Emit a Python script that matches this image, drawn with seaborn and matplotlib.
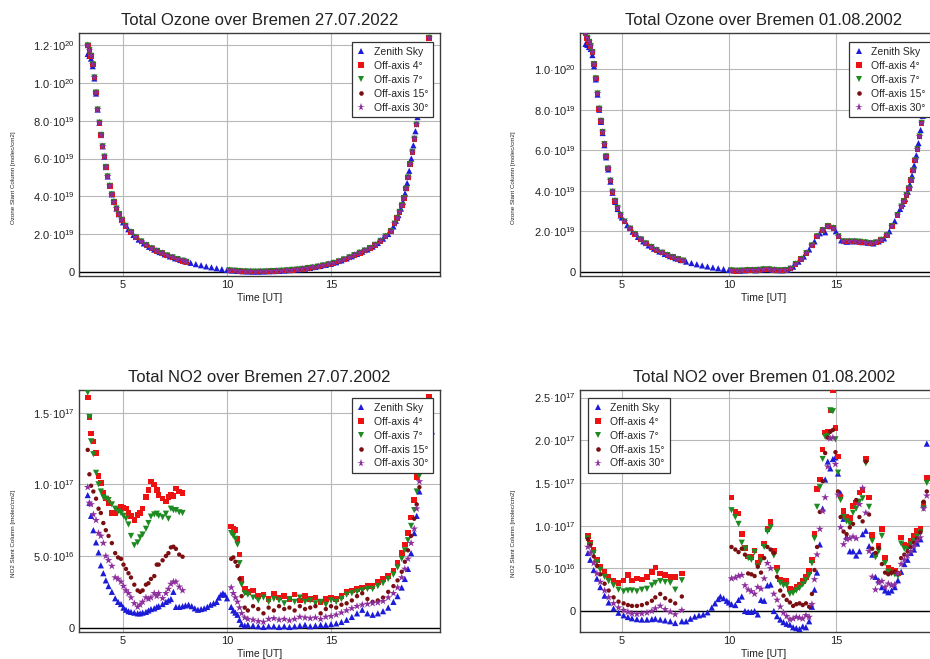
import matplotlib
matplotlib.use("Agg")
import matplotlib.pyplot as plt
from matplotlib.lines import Line2D
import pandas as pd
import seaborn as sns

# ---------------------------------------------------------------- series
SERIES = ["Zenith Sky", "Off-axis 4°", "Off-axis 7°", "Off-axis 15°", "Off-axis 30°"]
COLORS = {"Zenith Sky": "#1c1cd8", "Off-axis 4°": "#ee1111", "Off-axis 7°": "#1e8a22",
          "Off-axis 15°": "#7a0e10", "Off-axis 30°": "#8e2f9e"}
MARKERS = {"Zenith Sky": "^", "Off-axis 4°": "s", "Off-axis 7°": "v",
           "Off-axis 15°": "o", "Off-axis 30°": "*"}
SIZES = {"Zenith Sky": 20, "Off-axis 4°": 16, "Off-axis 7°": 20,
         "Off-axis 15°": 10, "Off-axis 30°": 34}
LEGEND_MS = {"Zenith Sky": 4.6, "Off-axis 4°": 4.4, "Off-axis 7°": 4.6,
             "Off-axis 15°": 3.3, "Off-axis 30°": 5.8}

# ---------------------------------------------------------------- ticks
x_ticks = [5, 10, 15]
x_ticklabels = ["5", "10", "15"]
o3_0727_yticks = [0, 2, 4, 6, 8, 10, 12]
o3_0727_yticklabels = ["0", "2.0·10$^{19}$", "4.0·10$^{19}$", "6.0·10$^{19}$",
                       "8.0·10$^{19}$", "1.0·10$^{20}$", "1.2·10$^{20}$"]
o3_0108_yticks = [0, 2, 4, 6, 8, 10]
o3_0108_yticklabels = ["0", "2.0·10$^{19}$", "4.0·10$^{19}$", "6.0·10$^{19}$",
                       "8.0·10$^{19}$", "1.0·10$^{20}$"]
no2_0727_yticks = [0, 5, 10, 15]
no2_0727_yticklabels = ["0", "5.0·10$^{16}$", "1.0·10$^{17}$", "1.5·10$^{17}$"]
no2_0108_yticks = [0, 5, 10, 15, 20, 25]
no2_0108_yticklabels = ["0", "5.0·10$^{16}$", "1.0·10$^{17}$", "1.5·10$^{17}$",
                        "2.0·10$^{17}$", "2.5·10$^{17}$"]

# ---------------------------------------------------------------- ozone 27.07 (units 1e19 molec/cm2)
o3_0727_am_time = [3.30, 3.38, 3.46, 3.54, 3.62, 3.70, 3.78, 3.86, 3.94, 4.02, 4.10, 4.18, 4.26, 4.36,
                   4.46, 4.56, 4.68, 4.80, 4.94, 5.00, 5.25, 5.50, 5.75, 6.00, 6.25, 6.50, 6.75, 7.00,
                   7.25, 7.50, 7.75, 8.00]
o3_0727_am_zenith = [11.55, 11.45, 11.3, 10.9, 10.25, 9.45, 8.6, 7.9, 7.25, 6.65, 6.1, 5.55, 5.05, 4.55,
                     4.1, 3.7, 3.35, 3.05, 2.75, 2.62, 2.25, 1.95, 1.7, 1.5, 1.32, 1.17, 1.04, 0.92,
                     0.81, 0.71, 0.62, 0.54]
o3_0727_am_off_time = [3.30, 3.38, 3.46, 3.54, 3.62, 3.70, 3.78, 3.86, 3.94, 4.02, 4.10, 4.18, 4.26, 4.36,
                       4.46, 4.56, 4.68, 4.80, 4.94, 5.12, 5.38, 5.62, 5.88, 6.12, 6.38, 6.62, 6.88,
                       7.12, 7.38, 7.62, 7.88, 8.05]
o3_0727_am_offaxis = [12.0, 11.75, 11.45, 11.0, 10.3, 9.5, 8.6, 7.9, 7.25, 6.65, 6.1, 5.55, 5.05, 4.55,
                      4.1, 3.7, 3.35, 3.05, 2.75, 2.43, 2.10, 1.82, 1.60, 1.41, 1.24, 1.10, 0.98,
                      0.86, 0.76, 0.66, 0.58, 0.52]
o3_0727_mid_time = [8.25, 8.50, 8.75, 9.00, 9.25, 9.50, 9.75]
o3_0727_mid_zenith = [0.47, 0.40, 0.34, 0.28, 0.23, 0.18, 0.13]
o3_0727_pm_time = [10.00, 10.25, 10.50, 10.75, 11.00, 11.25, 11.50, 11.75, 12.00, 12.25, 12.50, 12.75,
                   13.00, 13.25, 13.50, 13.75, 14.00, 14.25, 14.50, 14.75, 15.00, 15.25, 15.50, 15.75,
                   16.00, 16.25, 16.50, 16.75, 17.00, 17.25, 17.50, 17.75, 18.00, 18.12, 18.24, 18.36,
                   18.46, 18.56, 18.66, 18.76, 18.86, 18.96, 19.06, 19.16, 19.30, 19.45, 19.60, 19.72]
o3_0727_pm_zenith = [0.09, 0.06, 0.04, 0.02, 0.01, 0.0, 0.0, 0.01, 0.02, 0.03, 0.04, 0.06,
                     0.08, 0.10, 0.13, 0.16, 0.20, 0.25, 0.30, 0.36, 0.42, 0.50, 0.60, 0.70,
                     0.82, 0.94, 1.06, 1.18, 1.33, 1.52, 1.75, 2.0, 2.4, 2.7, 3.0, 3.35,
                     3.7, 4.15, 4.7, 5.35, 6.0, 6.7, 7.45, 8.2, 9.3, 10.5, 11.0, 11.4]
o3_0727_pm_off_time = [10.12, 10.38, 10.62, 10.88, 11.12, 11.38, 11.62, 11.88, 12.12, 12.38, 12.62, 12.88,
                       13.12, 13.38, 13.62, 13.88, 14.12, 14.38, 14.62, 14.88, 15.12, 15.38, 15.62, 15.88,
                       16.12, 16.38, 16.62, 16.88, 17.12, 17.38, 17.62, 17.88, 18.06, 18.18, 18.30, 18.41,
                       18.51, 18.61, 18.71, 18.81, 18.91, 19.01, 19.11, 19.23, 19.38, 19.52, 19.66, 19.72]
o3_0727_pm_offaxis = [0.07, 0.05, 0.03, 0.015, 0.005, 0.0, 0.005, 0.015, 0.025, 0.035, 0.05, 0.07,
                      0.09, 0.115, 0.145, 0.18, 0.22, 0.27, 0.33, 0.39, 0.46, 0.55, 0.65, 0.76,
                      0.88, 1.0, 1.12, 1.25, 1.42, 1.63, 1.87, 2.15, 2.55, 2.85, 3.17, 3.52,
                      3.9, 4.4, 5.0, 5.7, 6.35, 7.05, 7.8, 8.7, 9.9, 11.0, 12.0, 12.4]

# ---------------------------------------------------------------- ozone 01.08 (units 1e19 molec/cm2)
o3_0108_am_time = [3.30, 3.38, 3.46, 3.54, 3.62, 3.70, 3.78, 3.86, 3.94, 4.02, 4.10, 4.18, 4.26, 4.36,
                   4.46, 4.56, 4.68, 4.80, 4.94, 5.00, 5.25, 5.50, 5.75, 6.00, 6.25, 6.50, 6.75, 7.00,
                   7.25, 7.50, 7.75]
o3_0108_am_zenith = [11.25, 11.2, 11.1, 11.0, 10.7, 10.15, 9.5, 8.75, 8.0, 7.4, 6.85, 6.25, 5.65, 5.05,
                     4.45, 3.9, 3.45, 3.1, 2.78, 2.68, 2.3, 1.98, 1.72, 1.5, 1.3, 1.14, 1.0, 0.88,
                     0.77, 0.67, 0.58]
o3_0108_am_off_time = [3.30, 3.38, 3.46, 3.54, 3.62, 3.70, 3.78, 3.86, 3.94, 4.02, 4.10, 4.18, 4.26, 4.36,
                       4.46, 4.56, 4.68, 4.80, 4.94, 5.12, 5.38, 5.62, 5.88, 6.12, 6.38, 6.62, 6.88,
                       7.12, 7.38, 7.62, 7.85]
o3_0108_am_offaxis = [11.8, 11.55, 11.35, 11.15, 10.85, 10.25, 9.55, 8.8, 8.05, 7.45, 6.9, 6.3, 5.7, 5.1,
                      4.5, 3.95, 3.5, 3.15, 2.8, 2.48, 2.13, 1.85, 1.60, 1.40, 1.22, 1.07, 0.94,
                      0.82, 0.72, 0.62, 0.55]
o3_0108_mid_time = [8.00, 8.25, 8.50, 8.75, 9.00, 9.25, 9.50, 9.75]
o3_0108_mid_zenith = [0.50, 0.43, 0.37, 0.31, 0.26, 0.21, 0.17, 0.13]
o3_0108_pm_time = [10.00, 10.25, 10.50, 10.75, 11.00, 11.25, 11.50, 11.75, 12.00, 12.25, 12.50, 12.75,
                   13.00, 13.25, 13.50, 13.75, 14.00, 14.25, 14.50, 14.75, 15.00, 15.25, 15.50, 15.75,
                   16.00, 16.25, 16.50, 16.75, 17.00, 17.25, 17.50, 17.75, 18.00, 18.12, 18.24, 18.36,
                   18.46, 18.56, 18.66, 18.76, 18.86, 18.96, 19.06, 19.16, 19.30]
o3_0108_pm_zenith = [0.09, 0.06, 0.05, 0.07, 0.09, 0.07, 0.10, 0.13, 0.10, 0.08, 0.07, 0.10,
                     0.25, 0.50, 0.75, 1.10, 1.50, 1.90, 1.95, 2.25, 2.00, 1.55, 1.48, 1.50,
                     1.50, 1.46, 1.43, 1.40, 1.50, 1.65, 2.00, 2.50, 3.10, 3.35, 3.60, 3.95,
                     4.30, 4.75, 5.25, 5.75, 6.35, 7.00, 7.70, 8.50, 9.60]
o3_0108_pm_off_time = [10.12, 10.38, 10.62, 10.88, 11.12, 11.38, 11.62, 11.88, 12.12, 12.38, 12.62, 12.88,
                       13.12, 13.38, 13.62, 13.88, 14.12, 14.38, 14.62, 14.88, 15.12, 15.38, 15.62, 15.88,
                       16.12, 16.38, 16.62, 16.88, 17.12, 17.38, 17.62, 17.88, 18.06, 18.18, 18.30, 18.41,
                       18.51, 18.61, 18.71, 18.81, 18.91, 19.01, 19.11, 19.23, 19.38]
o3_0108_pm_offaxis = [0.07, 0.05, 0.06, 0.08, 0.08, 0.09, 0.12, 0.12, 0.09, 0.07, 0.08, 0.15,
                      0.38, 0.62, 0.92, 1.30, 1.75, 2.05, 2.25, 2.15, 1.75, 1.50, 1.50, 1.50,
                      1.48, 1.45, 1.41, 1.45, 1.57, 1.80, 2.25, 2.80, 3.22, 3.48, 3.78, 4.12,
                      4.52, 5.00, 5.50, 6.05, 6.68, 7.35, 8.10, 9.00, 10.2]

# ---------------------------------------------------------------- NO2 27.07 (units 1e16 molec/cm2)
no2_0727_am_time = [3.30, 3.38, 3.46, 3.57, 3.70, 3.82, 3.93, 4.05, 4.17, 4.30, 4.46, 4.62, 4.76, 4.90,
                    5.02, 5.14, 5.26, 5.38, 5.54, 5.70, 5.82, 5.94, 6.10, 6.22, 6.34, 6.50, 6.62, 6.71,
                    6.90, 7.06, 7.18, 7.30, 7.42, 7.54, 7.70, 7.86]
no2_0727_am_zenith = [9.25, 8.7, 7.8, 6.8, 5.95, 5.25, 4.35, 3.8, 3.3, 2.9, 2.5, 2.05, 1.8, 1.65,
                      1.4, 1.25, 1.15, 1.1, 1.05, 1.0, 1.0, 1.05, 1.1, 1.2, 1.3, 1.35, 1.45, 1.5,
                      1.65, 1.8, 1.9, 2.0, 2.5, 1.45, 1.45, 1.5]
no2_0727_am_off4 = [16.05, 14.7, 13.55, 13.0, 12.2, 10.6, 10.1, 9.4, 9.0, 8.7, 8.0, 8.0, 8.2, 8.4,
                    8.35, 8.3, 8.0, 7.8, 7.5, 7.85, 8.0, 8.3, 9.1, 9.6, 10.2, 10.0, 9.6, 9.25,
                    9.0, 8.8, 9.1, 9.3, 9.2, 9.7, 9.5, 9.4]
no2_0727_am_off7 = [16.4, 14.7, 13.0, 12.1, 10.8, 10.0, 9.5, 9.1, 9.0, 8.9, 8.6, 8.3, 8.1, 8.0,
                    7.8, 7.6, 7.2, 6.4, 5.75, 5.95, 6.3, 6.5, 6.9, 7.3, 7.75, 7.9, 7.95, 7.8,
                    7.7, 7.95, 7.6, 8.3, 8.2, 8.2, 8.05, 8.0]
no2_0727_am_off15 = [12.4, 10.7, 9.9, 9.5, 9.0, 8.3, 8.0, 7.3, 6.8, 6.4, 5.9, 5.2, 4.9, 4.8,
                     4.4, 4.1, 3.8, 3.5, 3.0, 2.6, 2.5, 2.6, 3.0, 3.1, 3.4, 3.6, 4.4, 4.4,
                     4.7, 5.0, 5.2, 5.6, 5.65, 5.5, 5.1, 4.95]
no2_0727_am_off30 = [9.8, 8.7, 8.6, 7.9, 7.5, 6.6, 6.4, 5.9, 5.0, 4.7, 4.3, 3.5, 3.4, 3.2,
                     2.9, 2.6, 2.4, 2.1, 1.7, 1.45, 1.6, 1.8, 2.1, 2.0, 2.1, 2.4, 2.2, 2.4,
                     2.05, 2.4, 2.7, 3.05, 3.2, 3.2, 2.85, 2.6]
no2_0727_mid_time = [8.00, 8.15, 8.30, 8.45, 8.60, 8.75, 8.90, 9.05, 9.20, 9.35, 9.50, 9.60, 9.70,
                     9.80, 9.90, 10.00]
no2_0727_mid_zenith = [1.55, 1.6, 1.5, 1.35, 1.25, 1.3, 1.35, 1.45, 1.6, 1.7, 1.8, 2.1, 2.3,
                       2.4, 2.3, 2.05]
no2_0727_pm_time = [10.20, 10.30, 10.40, 10.50, 10.60, 10.70, 10.85, 11.00, 11.25, 11.50, 11.75, 12.00,
                    12.25, 12.50, 12.75, 13.00, 13.25, 13.50, 13.75, 14.00, 14.25, 14.50, 14.75, 15.00,
                    15.25, 15.50, 15.75, 16.00, 16.25, 16.50, 16.75, 17.00, 17.25, 17.50, 17.75, 18.00,
                    18.20, 18.40, 18.55, 18.70, 18.85, 19.00, 19.12, 19.25]
no2_0727_pm_zenith = [1.45, 1.2, 1.05, 0.9, 0.55, 0.25, 0.15, 0.2, 0.15, 0.1, 0.05, 0.1,
                      0.1, 0.05, 0.1, 0.05, 0.1, 0.15, 0.2, 0.1, 0.15, 0.2, 0.2, 0.25,
                      0.3, 0.4, 0.55, 0.75, 1.0, 1.25, 1.0, 0.9, 1.0, 1.15, 1.4, 1.8,
                      2.2, 2.8, 3.4, 4.1, 5.2, 6.6, 7.8, 9.5]
no2_0727_pm_off4 = [7.05, 6.9, 6.8, 6.2, 5.1, 3.4, 2.7, 2.5, 2.6, 2.2, 2.3, 2.0,
                    2.4, 2.1, 2.2, 2.0, 2.3, 1.9, 2.2, 2.0, 2.1, 1.8, 2.0, 2.1,
                    2.0, 2.2, 2.5, 2.6, 2.7, 2.8, 2.9, 2.9, 3.2, 3.4, 3.6, 4.0,
                    4.5, 5.2, 5.8, 6.6, 7.7, 8.9, 10.5, 11.5]
no2_0727_pm_off7 = [6.6, 6.4, 6.2, 5.8, 4.5, 3.0, 2.4, 2.3, 2.1, 1.9, 2.1, 1.8,
                    2.0, 1.9, 1.7, 2.0, 1.8, 2.1, 1.8, 1.9, 1.7, 1.8, 1.6, 1.9,
                    1.8, 2.0, 2.3, 2.4, 2.5, 2.6, 2.7, 2.7, 2.9, 3.1, 3.4, 3.7,
                    4.2, 4.8, 5.4, 6.1, 7.1, 8.2, 9.5, 10.6]
no2_0727_pm_off15 = [4.8, 4.9, 4.6, 4.3, 3.4, 2.2, 1.4, 1.2, 1.5, 1.3, 1.0, 1.4,
                     1.2, 1.5, 1.3, 1.4, 1.2, 1.5, 1.3, 1.4, 1.5, 1.0, 1.3, 1.5,
                     1.4, 1.6, 1.7, 1.9, 2.2, 2.4, 2.0, 1.8, 1.9, 2.1, 2.5, 2.9,
                     3.3, 3.9, 4.6, 5.4, 6.4, 7.6, 8.6, 9.8]
no2_0727_pm_off30 = [2.8, 2.4, 2.1, 1.8, 1.4, 1.0, 0.7, 0.6, 0.55, 0.45, 0.4, 0.6,
                     0.65, 0.55, 0.6, 0.5, 0.6, 0.75, 0.7, 0.65, 0.7, 0.6, 0.75, 0.8,
                     0.9, 1.05, 1.2, 1.35, 1.5, 1.6, 1.65, 1.7, 1.75, 1.85, 2.1, 2.4,
                     2.8, 3.5, 4.1, 4.8, 5.9, 6.9, 8.3, 10.2]
no2_0727_end_time = [19.70, 19.85]
no2_0727_end_off4 = [16.1, None]
no2_0727_end_zenith = [None, 13.7]

# ---------------------------------------------------------------- NO2 01.08 (units 1e16 molec/cm2)
no2_0108_am_time = [3.41, 3.52, 3.68, 3.83, 3.99, 4.19, 4.38, 4.61, 4.84, 5.08, 5.28, 5.47, 5.70,
                    5.93, 6.17, 6.40, 6.56, 6.79, 7.02, 7.26, 7.49, 7.80]
no2_0108_am_zenith = [6.8, 6.0, 4.8, 3.8, 2.8, 1.8, 1.0, 0.3, -0.2, -0.5, -0.7, -0.85, -0.95,
                      -1.0, -1.0, -0.95, -0.9, -1.0, -1.1, -1.2, -1.4, -1.2]
no2_0108_am_off4 = [8.8, 8.0, 7.15, 6.0, 5.2, 4.6, 4.0, 3.55, 3.25, 3.6, 4.2, 3.6, 3.8,
                    3.7, 4.0, 4.6, 5.1, 4.4, 4.2, 4.0, 4.0, 4.4]
no2_0108_am_off7 = [8.5, 7.7, 6.8, 5.7, 4.8, 4.0, 3.5, 3.0, 2.5, 2.3, 2.4, 2.4, 2.3,
                    2.5, 2.6, 3.0, 3.3, 3.5, 3.4, 3.3, 2.5, 3.6]
no2_0108_am_off15 = [8.4, 7.7, 6.4, 5.3, 4.3, 3.2, 2.4, 1.6, 1.1, 0.9, 0.7, 0.6, 0.6,
                     0.7, 0.9, 1.2, 1.6, 2.0, 1.5, 1.2, 0.9, 1.7]
no2_0108_am_off30 = [7.5, 6.8, 5.6, 4.4, 3.4, 2.4, 1.6, 0.9, 0.4, 0.1, -0.1, -0.3, -0.35,
                     -0.3, -0.2, 0.0, 0.3, 0.6, 0.2, -0.1, -0.4, 0.1]
no2_0108_mid_time = [8.00, 8.20, 8.40, 8.60, 8.80, 9.00, 9.20, 9.35, 9.50, 9.60, 9.75, 9.90, 10.00]
no2_0108_mid_zenith = [-1.2, -0.9, -0.65, -0.5, -0.4, -0.15, 0.4, 0.9, 1.4, 1.7, 1.5, 1.2, 1.0]
no2_0108_pm_time = [10.12, 10.30, 10.45, 10.60, 10.75, 10.90, 11.05, 11.20, 11.35, 11.50,
                    11.65, 11.80, 11.95, 12.10, 12.25, 12.40, 12.55, 12.70, 12.85, 13.00,
                    13.15, 13.30, 13.45, 13.60, 13.75, 13.88, 14.00, 14.12, 14.25, 14.38,
                    14.50, 14.62, 14.74, 14.86, 14.98, 15.10, 15.22, 15.36, 15.50, 15.65,
                    15.80, 15.95, 16.10, 16.25, 16.40, 16.55, 16.70, 16.85, 17.00, 17.15,
                    17.30, 17.45, 17.60, 17.75, 17.90, 18.05, 18.20, 18.35, 18.50, 18.65,
                    18.80, 18.95, 19.10, 19.25]
no2_0108_pm_zenith = [0.8, 0.7, 1.3, 1.7, 0.0, -0.1, -0.1, 0.0, -0.4, 1.3,
                      1.2, 3.0, 3.1, 0.0, -0.6, -1.0, -1.3, -1.5, -1.6, -1.9,
                      -2.0, -2.1, -1.8, -1.9, -1.2, 0.5, 2.5, 4.5, 7.8, 12.0,
                      15.4, 17.5, 16.7, 17.8, 18.0, 16.1, 13.8, 10.8, 8.7, 7.0,
                      7.0, 6.5, 7.0, 9.0, 9.4, 7.6, 6.6, 4.0, 3.6, 2.8,
                      2.4, 2.2, 2.4, 2.8, 3.6, 4.6, 5.5, 6.0, 6.8, 7.2,
                      7.9, 8.4, 12.5, 19.6]
no2_0108_pm_off4 = [13.3, 11.6, 11.4, 9.0, 7.4, 6.4, 6.3, 7.1, 5.7, 6.3,
                    7.9, 9.6, 10.4, 7.0, 5.1, 3.7, 3.5, 3.5, 2.6, 2.5,
                    2.8, 3.1, 3.5, 4.0, 4.7, 6.0, 9.0, 14.3, 15.4, 18.9,
                    20.9, 21.0, 23.5, 25.8, 21.4, 18.1, 13.4, 11.7, 11.0, 10.9,
                    12.3, 12.7, 13.9, 14.1, 17.8, 13.3, 8.9, 6.6, 7.6, 9.6,
                    6.2, 5.1, 4.8, 4.7, 4.4, 8.6, 7.8, 7.6, 8.2, 8.8,
                    9.4, 9.6, 12.5, 15.6]
no2_0108_pm_off7 = [11.8, 11.0, 10.2, 8.0, 7.3, 6.2, 6.0, 6.9, 5.2, 5.9,
                    7.5, 9.3, 9.8, 6.5, 4.6, 3.3, 3.0, 3.0, 2.0, 2.1,
                    2.4, 2.7, 3.1, 3.6, 4.2, 5.6, 8.5, 12.2, 14.5, 17.8,
                    20.4, 20.5, 23.5, 23.4, 20.1, 16.2, 13.0, 11.0, 10.5, 10.2,
                    11.5, 12.0, 12.8, 13.2, 17.3, 12.2, 8.2, 6.3, 7.0, 8.8,
                    5.6, 4.6, 4.4, 4.3, 4.1, 7.9, 7.3, 7.2, 7.8, 8.2,
                    8.7, 9.2, 12.0, 15.0]
no2_0108_pm_off15 = [7.5, 7.2, 6.9, 7.3, 6.6, 4.4, 4.3, 4.1, 5.2, 4.5,
                     6.2, 7.5, 7.2, 6.8, 4.0, 2.4, 1.8, 1.3, 1.0, 0.6,
                     0.8, 0.9, 0.7, 0.9, 0.5, 2.0, 4.8, 7.5, 11.6, 15.2,
                     18.5, 20.3, 21.0, 21.2, 18.6, 14.0, 11.0, 9.3, 9.0, 9.8,
                     10.2, 13.0, 11.0, 10.5, 17.5, 11.3, 7.3, 6.8, 7.4, 5.5,
                     4.5, 4.3, 4.5, 4.6, 4.4, 6.2, 6.6, 7.0, 7.5, 8.0,
                     8.5, 9.2, 12.8, 14.0]
no2_0108_pm_off30 = [3.8, 3.9, 4.1, 4.2, 3.0, 2.5, 2.3, 2.0, 2.8, 2.6,
                     3.8, 5.6, 5.0, 2.0, 1.3, 0.5, -0.2, -0.6, -1.0, -0.9,
                     -0.7, -0.8, -0.9, -0.5, -0.7, 0.8, 3.7, 6.6, 9.6, 11.7,
                     13.3, 16.9, 20.2, 20.3, 17.2, 13.6, 9.8, 7.8, 8.4, 8.5,
                     8.7, 8.5, 12.5, 14.4, 11.5, 7.0, 4.0, 2.5, 3.3, 3.5,
                     2.8, 3.2, 3.0, 3.1, 4.4, 5.5, 6.0, 6.5, 7.0, 7.6,
                     8.2, 8.6, 12.0, 13.5]


def long_frame(segments):
    rows = []
    for times, series in segments:
        for name, vals in series.items():
            assert len(vals) == len(times), (name, len(vals), len(times))
            for t, v in zip(times, vals):
                if v is not None:
                    rows.append({"time": t, "value": v, "series": name})
    df = pd.DataFrame(rows)
    df["order"] = df["series"].map(SERIES.index)
    return df.sort_values(["order", "time"], kind="stable").reset_index(drop=True)


Z, R, G, M, P = SERIES
o3_0727 = long_frame([
    (o3_0727_am_time, {Z: o3_0727_am_zenith}),
    (o3_0727_am_off_time, {R: o3_0727_am_offaxis, G: o3_0727_am_offaxis,
                           M: o3_0727_am_offaxis, P: o3_0727_am_offaxis}),
    (o3_0727_mid_time, {Z: o3_0727_mid_zenith}),
    (o3_0727_pm_time, {Z: o3_0727_pm_zenith}),
    (o3_0727_pm_off_time, {R: o3_0727_pm_offaxis, G: o3_0727_pm_offaxis,
                           M: o3_0727_pm_offaxis, P: o3_0727_pm_offaxis}),
])
o3_0108 = long_frame([
    (o3_0108_am_time, {Z: o3_0108_am_zenith}),
    (o3_0108_am_off_time, {R: o3_0108_am_offaxis, G: o3_0108_am_offaxis,
                           M: o3_0108_am_offaxis, P: o3_0108_am_offaxis}),
    (o3_0108_mid_time, {Z: o3_0108_mid_zenith}),
    (o3_0108_pm_time, {Z: o3_0108_pm_zenith}),
    (o3_0108_pm_off_time, {R: o3_0108_pm_offaxis, G: o3_0108_pm_offaxis,
                           M: o3_0108_pm_offaxis, P: o3_0108_pm_offaxis}),
])
no2_0727 = long_frame([
    (no2_0727_am_time, {Z: no2_0727_am_zenith, R: no2_0727_am_off4, G: no2_0727_am_off7,
                        M: no2_0727_am_off15, P: no2_0727_am_off30}),
    (no2_0727_mid_time, {Z: no2_0727_mid_zenith}),
    (no2_0727_pm_time, {Z: no2_0727_pm_zenith, R: no2_0727_pm_off4, G: no2_0727_pm_off7,
                        M: no2_0727_pm_off15, P: no2_0727_pm_off30}),
    (no2_0727_end_time, {Z: no2_0727_end_zenith, R: no2_0727_end_off4}),
])
no2_0108 = long_frame([
    (no2_0108_am_time, {Z: no2_0108_am_zenith, R: no2_0108_am_off4, G: no2_0108_am_off7,
                        M: no2_0108_am_off15, P: no2_0108_am_off30}),
    (no2_0108_mid_time, {Z: no2_0108_mid_zenith}),
    (no2_0108_pm_time, {Z: no2_0108_pm_zenith, R: no2_0108_pm_off4, G: no2_0108_pm_off7,
                        M: no2_0108_pm_off15, P: no2_0108_pm_off30}),
])

# ---------------------------------------------------------------- style
sns.set_theme(style="whitegrid")
plt.rcParams["font.family"] = ["Liberation Sans", "DejaVu Sans"]
plt.rcParams["mathtext.fontset"] = "custom"
plt.rcParams["mathtext.rm"] = "Liberation Sans"
plt.rcParams["mathtext.it"] = "Liberation Sans:italic"
plt.rcParams["mathtext.bf"] = "Liberation Sans:bold"

fig = plt.figure(figsize=(9.3, 6.59), dpi=100)
fig.patch.set_facecolor("white")

W, H = 930.0, 659.0


def rect(left, top, right, bottom):
    return [left / W, 1 - bottom / H, (right - left) / W, (bottom - top) / H]


panels = [
    dict(df=o3_0727, rect=rect(79, 33, 440, 276), xlim=(2.88, 20.24), ylim=(-0.23, 12.66),
         yt=o3_0727_yticks, ytl=o3_0727_yticklabels,
         title="Total Ozone over Bremen 27.07.2022", ylabel="Ozone Slant Column [molec/cm2]",
         leg=("upper right", (0.981, 0.963))),
    dict(df=o3_0108, rect=rect(580, 33, 948, 276), xlim=(3.04, 20.24), ylim=(-0.21, 11.79),
         yt=o3_0108_yticks, ytl=o3_0108_yticklabels,
         title="Total Ozone over Bremen 01.08.2002", ylabel="Ozone Slant Column [molec/cm2]",
         leg=("upper left", (0.731, 0.963))),
    dict(df=no2_0727, rect=rect(79, 390, 440, 631.7), xlim=(2.88, 20.24), ylim=(-0.28, 16.58),
         yt=no2_0727_yticks, ytl=no2_0727_yticklabels,
         title="Total NO2 over Bremen 27.07.2002", ylabel="NO2 Slant Column [molec/cm2]",
         leg=("upper right", (0.981, 0.967))),
    dict(df=no2_0108, rect=rect(580, 390, 948, 631.7), xlim=(3.04, 20.24), ylim=(-2.42, 25.88),
         yt=no2_0108_yticks, ytl=no2_0108_yticklabels,
         title="Total NO2 over Bremen 01.08.2002", ylabel="NO2 Slant Column [molec/cm2]",
         leg=("upper left", (0.022, 0.967))),
]

handles = [Line2D([], [], ls="none", marker=MARKERS[s], color=COLORS[s], markeredgewidth=0,
                  markersize=LEGEND_MS[s], label=s) for s in SERIES]

for p in panels:
    ax = fig.add_axes(p["rect"])
    ax.set_facecolor("white")
    sns.scatterplot(data=p["df"], x="time", y="value", hue="series", style="series", size="series",
                    hue_order=SERIES, style_order=SERIES, size_order=SERIES,
                    palette=COLORS, markers=MARKERS, sizes=SIZES, linewidth=0,
                    legend=False, ax=ax, zorder=3)
    ax.axhline(0, color="black", lw=1.0, zorder=2)
    ax.set_xlim(*p["xlim"])
    ax.set_ylim(*p["ylim"])
    ax.set_xticks(x_ticks)
    ax.set_xticklabels(x_ticklabels)
    ax.set_yticks(p["yt"])
    ax.set_yticklabels(p["ytl"])
    ax.grid(True, color="#b8b8b8", lw=0.8)
    ax.set_axisbelow(True)
    for s in ax.spines.values():
        s.set_visible(True)
        s.set_color("#3c3c3c")
        s.set_linewidth(1.0)
    ax.tick_params(axis="both", labelsize=8, length=0, pad=3, colors="#222222")
    ax.set_title(p["title"], fontsize=12, pad=6, color="#222222")
    ax.set_xlabel("Time [UT]", fontsize=7.5, labelpad=2, color="#222222")
    ax.set_ylabel(p["ylabel"], fontsize=4.5, color="#222222")
    ax.yaxis.set_label_coords(-0.175, 0.405)
    leg = ax.legend(handles=handles, loc=p["leg"][0], bbox_to_anchor=p["leg"][1],
                    fontsize=7.5, frameon=True, fancybox=False, framealpha=1,
                    edgecolor="#333333", borderpad=0.45, labelspacing=0.38,
                    handlelength=1.0, handletextpad=0.7, borderaxespad=0)
    leg.get_frame().set_linewidth(0.9)
    leg.set_zorder(10)

fig.savefig("out.png", dpi=100, facecolor="white")
